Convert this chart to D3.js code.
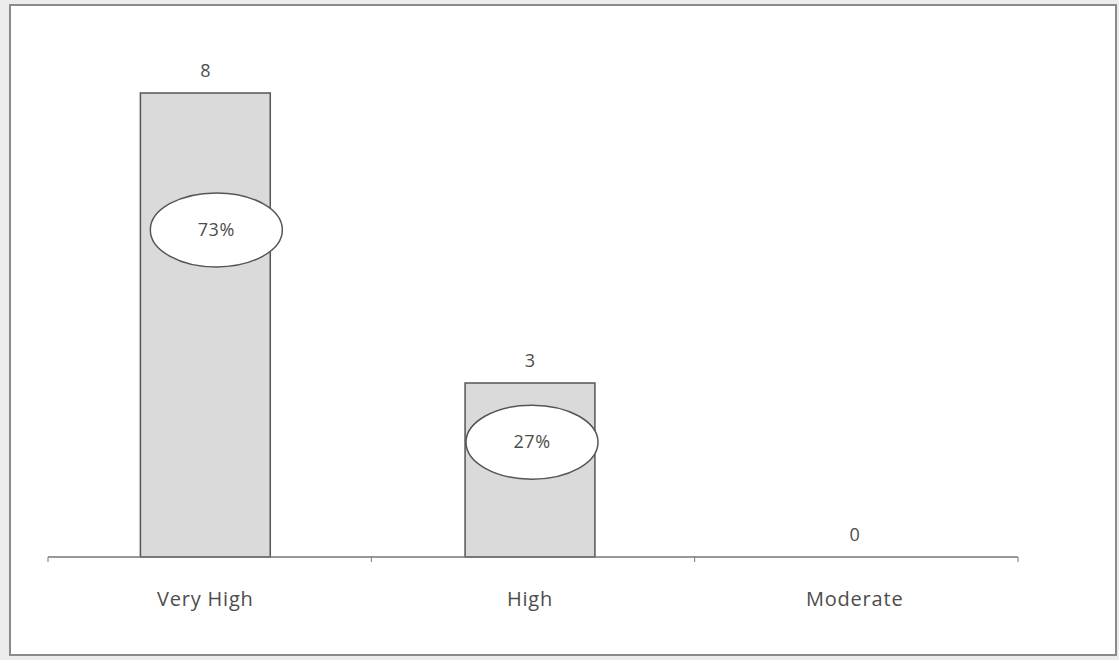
<!DOCTYPE html>
<html>
<head>
<meta charset="utf-8">
<script src="https://cdn.jsdelivr.net/npm/d3@7"></script>
<style>
  html, body { margin: 0; padding: 0; background: #f4f4f4; }
  svg { display: block; }
  text { font-family: "Open Sans", "Noto Sans", sans-serif; fill: #4d4d4d; }
</style>
</head>
<body>
<svg id="chart" width="1119" height="660"></svg>
<script>
// Response counts by rating level
const categories = ["Very High", "High", "Moderate"];
const counts = [8, 3, 0];
// Share callouts shown inside the bars, and the value level at which each sits
const shareLabels = ["73%", "27%"];
const shareLevels = [5.64, 1.98];

const svg = d3.select("#chart");
const W = 1119, H = 660;

// Horizontal nudge of each callout from its bar centre (px)
const calloutShift = [11, 2];

// Page frame
svg.append("rect").attr("x", 0).attr("y", 0).attr("width", W).attr("height", H).attr("fill", "#ececec");
svg.append("rect").attr("x", 10).attr("y", 5).attr("width", 1106).attr("height", 650)
  .attr("fill", "#ffffff").attr("stroke", "#8a8a8a").attr("stroke-width", 2);

const axisLeft = 48, axisRight = 1018;
const x = d3.scaleBand().domain(categories).range([43, 1017]).paddingInner(0.6).paddingOuter(0.3);
const y = d3.scaleLinear().domain([0, 8]).range([557, 93]);

const g = svg.append("g");

// Bars
g.selectAll("rect.bar").data(categories).join("rect")
  .attr("class", "bar")
  .attr("x", d => x(d))
  .attr("y", (d, i) => y(counts[i]))
  .attr("width", x.bandwidth())
  .attr("height", (d, i) => y(0) - y(counts[i]))
  .attr("fill", "#dadada")
  .attr("stroke", "#555555")
  .attr("stroke-width", 1.5);

// Category axis
const axis = d3.axisBottom(x).tickSize(0).tickPadding(35);
const ax = g.append("g").attr("transform", `translate(0,${y(0)})`).call(axis);
ax.select(".domain").attr("d", `M${axisLeft},0H${axisRight}`).attr("stroke", "#777").attr("stroke-width", 1.5);
ax.selectAll("text").attr("font-size", 20).attr("fill", "#4d4d4d")
  .attr("letter-spacing", 0.8)
  .style("font-family", "'Open Sans', sans-serif");
// Tick marks between categories
const edges = d3.range(categories.length + 1).map(i => axisLeft + i * (axisRight - axisLeft) / categories.length);
g.selectAll("line.tick-mark").data(edges).join("line")
  .attr("x1", d => d).attr("x2", d => d)
  .attr("y1", y(0)).attr("y2", y(0) + 5)
  .attr("stroke", "#777").attr("stroke-width", 1);

// Value labels above bars
g.selectAll("text.val").data(categories).join("text")
  .attr("class", "val")
  .attr("x", d => x(d) + x.bandwidth() / 2)
  .attr("y", (d, i) => y(counts[i]) - 16)
  .attr("text-anchor", "middle")
  .attr("font-size", 18)
  .text((d, i) => counts[i]);

// Percentage callouts
const callouts = g.selectAll("g.callout").data(shareLabels).join("g")
  .attr("class", "callout")
  .attr("transform", (d, i) => `translate(${x(categories[i]) + x.bandwidth() / 2 + calloutShift[i]},${y(shareLevels[i])})`);
callouts.append("ellipse")
  .attr("rx", 66).attr("ry", 37)
  .attr("fill", "#ffffff").attr("stroke", "#555555").attr("stroke-width", 1.5);
callouts.append("text")
  .attr("text-anchor", "middle").attr("dy", "0.35em")
  .attr("font-size", 18).attr("letter-spacing", 0.6)
  .text(d => d);
</script>
</body>
</html>
